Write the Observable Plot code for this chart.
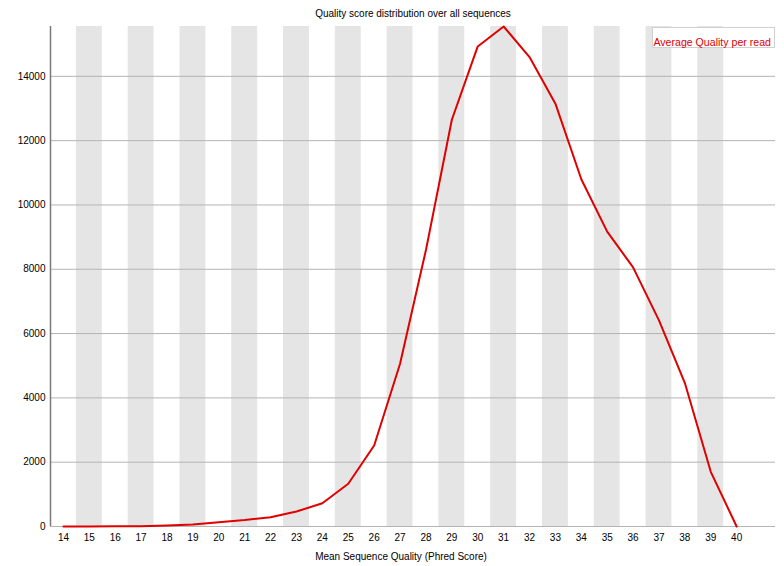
<!DOCTYPE html>
<html>
<head>
<meta charset="utf-8">
<script src="https://cdn.jsdelivr.net/npm/d3@7"></script>
<script src="https://cdn.jsdelivr.net/npm/@observablehq/plot@0.6"></script>
<style>
  html, body { margin: 0; padding: 0; background: #fff; }
  #chart svg { display: block; }
</style>
</head>
<body>
<div id="chart"></div>
<script>
const title = "Quality score distribution over all sequences";
const xLabel = "Mean Sequence Quality (Phred Score)";
const seriesName = "Average Quality per read";

const quality = [14,15,16,17,18,19,20,21,22,23,24,25,26,27,28,29,30,31,32,33,34,35,36,37,38,39,40];
const counts  = [2,3,4,8,30,65,130,200,290,465,725,1330,2520,5060,8600,12650,14930,15550,14600,13150,10800,9170,8060,6410,4460,1700,0];
const yTicks  = [0,2000,4000,6000,8000,10000,12000,14000];
const xTicks  = quality;
const shaded  = quality.filter(q => q % 2 === 1);

const data = quality.map((q, i) => ({q, n: counts[i]}));
const font = "'Liberation Sans', Arial, sans-serif";

const plot = Plot.plot({
  width: 784,
  height: 566,
  marginLeft: 50,
  marginRight: 9,
  marginTop: 26,
  marginBottom: 40,
  style: {fontFamily: font, fontSize: "10px", color: "#000", background: "#fff"},
  x: {domain: [13.5, 41.5], axis: null},
  y: {domain: [0, d3.max(counts)], axis: null},
  marks: [
    Plot.rect(shaded, {x1: d => d - 0.5, x2: d => d + 0.5, fill: "#e5e5e5"}),
    Plot.ruleY(yTicks, {stroke: "#b4b4b4", strokeWidth: 1}),
    Plot.ruleX([13.5], {stroke: "#7a7a7a", strokeWidth: 1.5}),
    Plot.text(yTicks, {x: 13.5, y: d => d, text: d => String(d), textAnchor: "end", dx: -5, fill: "#000"}),
    Plot.text(xTicks, {x: d => d, y: 0, text: d => String(d), dy: 11, fill: "#000"}),
    Plot.line(data, {x: "q", y: "n", stroke: "#e00000", strokeWidth: 2}),
    Plot.text([title], {frameAnchor: "top", dy: -17, fill: "#000"}),
    Plot.text([xLabel], {frameAnchor: "bottom", dx: -12, dy: 33, fill: "#000"})
  ]
});

document.getElementById("chart").appendChild(plot);

// legend box in the top-right corner of the frame
const svg = d3.select(plot);
const g = svg.append("g");
g.append("rect")
  .attr("x", 652.5).attr("y", 27.5)
  .attr("width", 122).attr("height", 20)
  .style("fill", "#ffffff").style("stroke", "#d0d0d0").style("stroke-width", 1);
g.append("text")
  .attr("x", 771).attr("y", 45.5)
  .attr("text-anchor", "end")
  .style("fill", "#e00000")
  .style("font-family", font).style("font-size", "10.6px")
  .text(seriesName);
</script>
</body>
</html>
